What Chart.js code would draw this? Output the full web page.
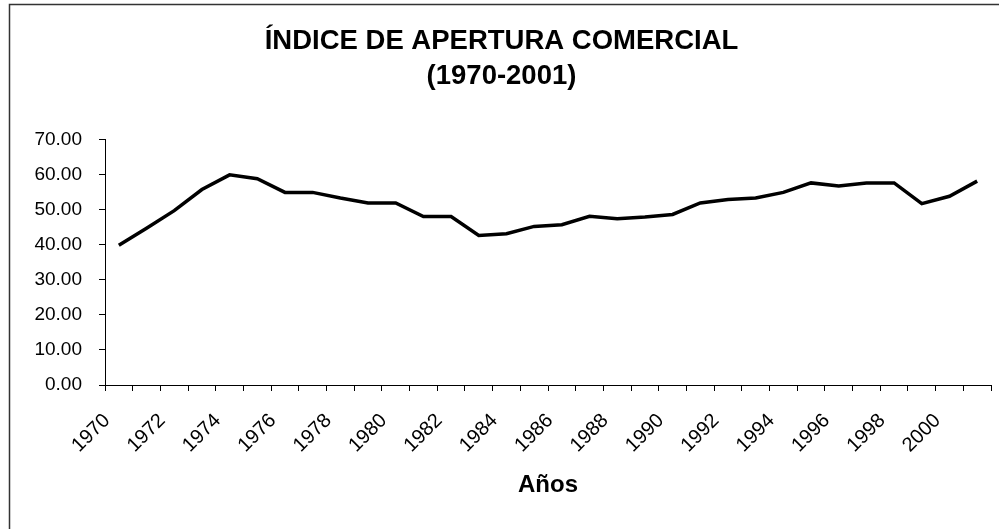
<!DOCTYPE html>
<html>
<head>
<meta charset="utf-8">
<title>Índice de apertura comercial</title>
<script src="https://cdn.jsdelivr.net/npm/chart.js@4/dist/chart.umd.min.js"></script>
<style>
  html, body { margin: 0; padding: 0; background: #fff; }
  canvas { display: block; }
</style>
</head>
<body>
<canvas id="grafico" width="999" height="529"></canvas>
<script>
// datos
const anios = ['1970','1971','1972','1973','1974','1975','1976','1977','1978','1979',
  '1980','1981','1982','1983','1984','1985','1986','1987','1988','1989',
  '1990','1991','1992','1993','1994','1995','1996','1997','1998','1999',
  '2000','2001'];
const apertura = [39.8, 44.7, 49.7, 55.7, 59.9, 58.8, 54.9, 54.9, 53.3, 51.9,
  51.9, 48.0, 48.0, 42.6, 43.1, 45.2, 45.7, 48.1, 47.4, 47.9,
  48.6, 51.9, 52.9, 53.3, 54.9, 57.6, 56.7, 57.6, 57.6, 51.7,
  53.8, 58.1];
const titulo = ['ÍNDICE DE APERTURA COMERCIAL', '(1970-2001)'];
const tituloX = 'Años';

const FUENTE = "'Liberation Sans', Arial, sans-serif";

// marco exterior del grafico (solo borde izquierdo y superior visibles)
const marco = {
  id: 'marco',
  beforeDraw(chart) {
    const ctx = chart.ctx;
    ctx.save();
    ctx.fillStyle = '#fff';
    ctx.fillRect(0, 0, chart.width, chart.height);
    ctx.strokeStyle = '#333';
    ctx.lineWidth = 1.5;
    ctx.beginPath();
    ctx.moveTo(9.5, chart.height);
    ctx.lineTo(9.5, 4.5);
    ctx.lineTo(chart.width, 4.5);
    ctx.stroke();
    ctx.restore();
  }
};

new Chart(document.getElementById('grafico'), {
  type: 'line',
  data: {
    labels: anios,
    datasets: [{
      label: 'Apertura',
      data: apertura,
      borderColor: '#000',
      borderWidth: 3.5,
      pointRadius: 0,
      tension: 0,
      fill: false
    }]
  },
  options: {
    responsive: false,
    animation: false,
    devicePixelRatio: 1,
    layout: { padding: { left: 4, right: 0, top: 0, bottom: 0 } },
    plugins: {
      legend: { display: false },
      tooltip: { enabled: false },
      title: {
        display: true,
        text: titulo,
        color: '#000',
        font: { family: FUENTE, size: 27.5, weight: 'bold', lineHeight: 1.28 },
        padding: { top: 24, bottom: 45 }
      }
    },
    scales: {
      x: {
        offset: true,
        afterFit: (s) => { s.height = 144; s.paddingLeft = 0; s.paddingRight = 8; },
        grid: { display: true, drawOnChartArea: false, offset: true, color: '#000', tickLength: 6 },
        border: { color: '#000', width: 1 },
        ticks: {
          autoSkip: false,
          minRotation: 45,
          maxRotation: 45,
          labelOffset: -12,
          padding: 18,
          color: '#000',
          font: { family: FUENTE, size: 20 },
          callback: function (v, i) { return i % 2 === 0 ? this.getLabelForValue(v) : ''; }
        },
        title: {
          display: true,
          text: tituloX,
          color: '#000',
          font: { family: FUENTE, size: 24, weight: 'bold', lineHeight: 1.2 },
          padding: { top: 30, bottom: 29 }
        }
      },
      y: {
        min: 0,
        max: 70,
        afterFit: (s) => { s.width = 101; },
        grid: { display: true, drawOnChartArea: false, color: '#000', tickLength: 6 },
        border: { color: '#000', width: 1 },
        ticks: {
          stepSize: 10,
          padding: 17,
          color: '#000',
          font: { family: FUENTE, size: 19 },
          callback: (v) => v.toFixed(2)
        }
      }
    }
  },
  plugins: [marco]
});
</script>
</body>
</html>
